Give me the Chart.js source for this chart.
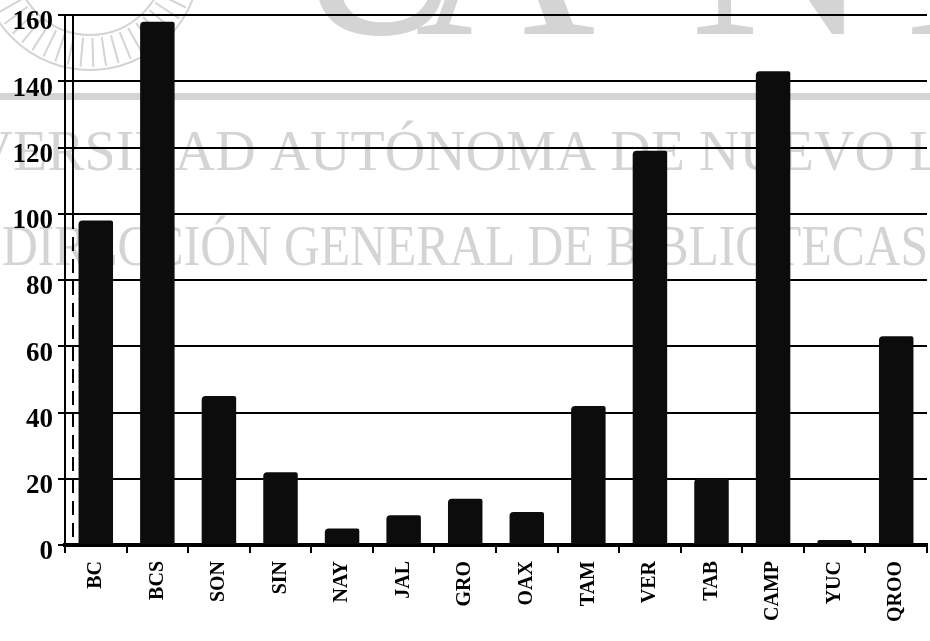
<!DOCTYPE html>
<html>
<head>
<meta charset="utf-8">
<script src="https://cdn.jsdelivr.net/npm/chart.js@4"></script>
<style>
  html, body { margin: 0; padding: 0; background: #fff; }
  #wrap { width: 930px; height: 641px; }
</style>
</head>
<body>
<div id="wrap"><canvas id="grafico" width="930" height="641"></canvas></div>
<script>
const estados = ['BC', 'BCS', 'SON', 'SIN', 'NAY', 'JAL', 'GRO', 'OAX', 'TAM', 'VER', 'TAB', 'CAMP', 'YUC', 'QROO'];
const valores = [98, 158, 45, 22, 5, 9, 14, 10, 42, 119, 20, 143, 1.5, 63];
const marcasY = [0, 20, 40, 60, 80, 100, 120, 140, 160];

// texto ajustado a un ancho dado (marca de agua)
function textoAncho(c, texto, x, y, ancho) {
  const w = c.measureText(texto).width;
  c.save();
  c.translate(x, y);
  c.scale(ancho / w, 1);
  c.fillText(texto, 0, 0);
  c.restore();
}

// marca de agua del escaneo (texto gris claro de fondo)
const marcaAgua = {
  id: 'marcaAgua',
  beforeDraw(chart) {
    const c = chart.ctx;
    c.save();
    c.fillStyle = '#d4d4d4';
    c.strokeStyle = '#d4d4d4';
    // sello
    c.lineWidth = 2;
    c.beginPath(); c.arc(90, -40, 110, 0, Math.PI); c.stroke();
    c.beginPath(); c.arc(90, -40, 75, 0, Math.PI); c.stroke();
    for (let a = 0.1; a < Math.PI; a += 0.12) {
      c.beginPath();
      c.moveTo(90 + Math.cos(a) * 78, -40 + Math.sin(a) * 78);
      c.lineTo(90 + Math.cos(a) * 107, -40 + Math.sin(a) * 107);
      c.stroke();
    }
    c.fillRect(0, 93, 930, 7);
    c.textAlign = 'left';
    c.textBaseline = 'alphabetic';
    c.font = '250px "Liberation Serif"';
    [['U', 290], ['A', 415], ['N', 690], ['L', 905]].forEach(([t, x]) => c.fillText(t, x, 34));
    c.font = '56px "Liberation Serif"';
    c.fillText('UNIVERSIDAD AUTÓNOMA DE NUEVO LEÓN', -127, 170);
    textoAncho(c, 'DIRECCIÓN GENERAL DE BIBLIOTECAS', 2, 265, 926);
    c.restore();
  },
  afterDatasetsDraw(chart) {
    // pared de fondo (efecto 3D)
    const c = chart.ctx;
    const a = chart.chartArea;
    c.save();
    c.strokeStyle = '#000';
    c.lineWidth = 2;
    c.beginPath(); c.moveTo(a.left + 8, a.top); c.lineTo(a.left + 8, a.top + 200); c.stroke();
    c.setLineDash([14, 8]);
    c.beginPath(); c.moveTo(a.left + 8, a.top + 200); c.lineTo(a.left + 8, a.bottom - 4); c.stroke();
    c.restore();
  }
};

const ctx = document.getElementById('grafico').getContext('2d');
new Chart(ctx, {
  type: 'bar',
  data: {
    labels: estados,
    datasets: [{
      data: valores,
      backgroundColor: '#0c0c0c',
      borderRadius: { topLeft: 4, topRight: 2 },
      borderSkipped: 'bottom',
      categoryPercentage: 1,
      barPercentage: 0.56
    }]
  },
  options: {
    responsive: false,
    animation: false,
    layout: { padding: { top: 0, right: 3, bottom: 0, left: 0 } },
    plugins: { legend: { display: false }, tooltip: { enabled: false } },
    scales: {
      y: {
        min: 0,
        max: 160,
        afterBuildTicks: s => { s.ticks = marcasY.map(v => ({ value: v })); },
        afterFit: s => { s.width = 65; s.paddingTop = 15; },
        ticks: {
          color: '#000',
          padding: 5,
          // etiqueta un poco por debajo de la marca, como en el original
          callback: v => ['', String(v)],
          font: { family: '"Liberation Serif"', weight: 'bold', size: 27, lineHeight: 0.55 }
        },
        grid: { color: '#000', lineWidth: 2, tickLength: 7 },
        border: { color: '#000', width: 2 }
      },
      x: {
        afterFit: s => { s.height = 96; },
        ticks: {
          color: '#000',
          minRotation: 90,
          maxRotation: 90,
          padding: 8,
          font: { family: '"Liberation Serif"', weight: 'bold', size: 20 }
        },
        grid: { offset: true, drawOnChartArea: false, color: '#000', lineWidth: 2, tickLength: 8 },
        border: { color: '#000', width: 4 }
      }
    }
  },
  plugins: [marcaAgua]
});
</script>
</body>
</html>
